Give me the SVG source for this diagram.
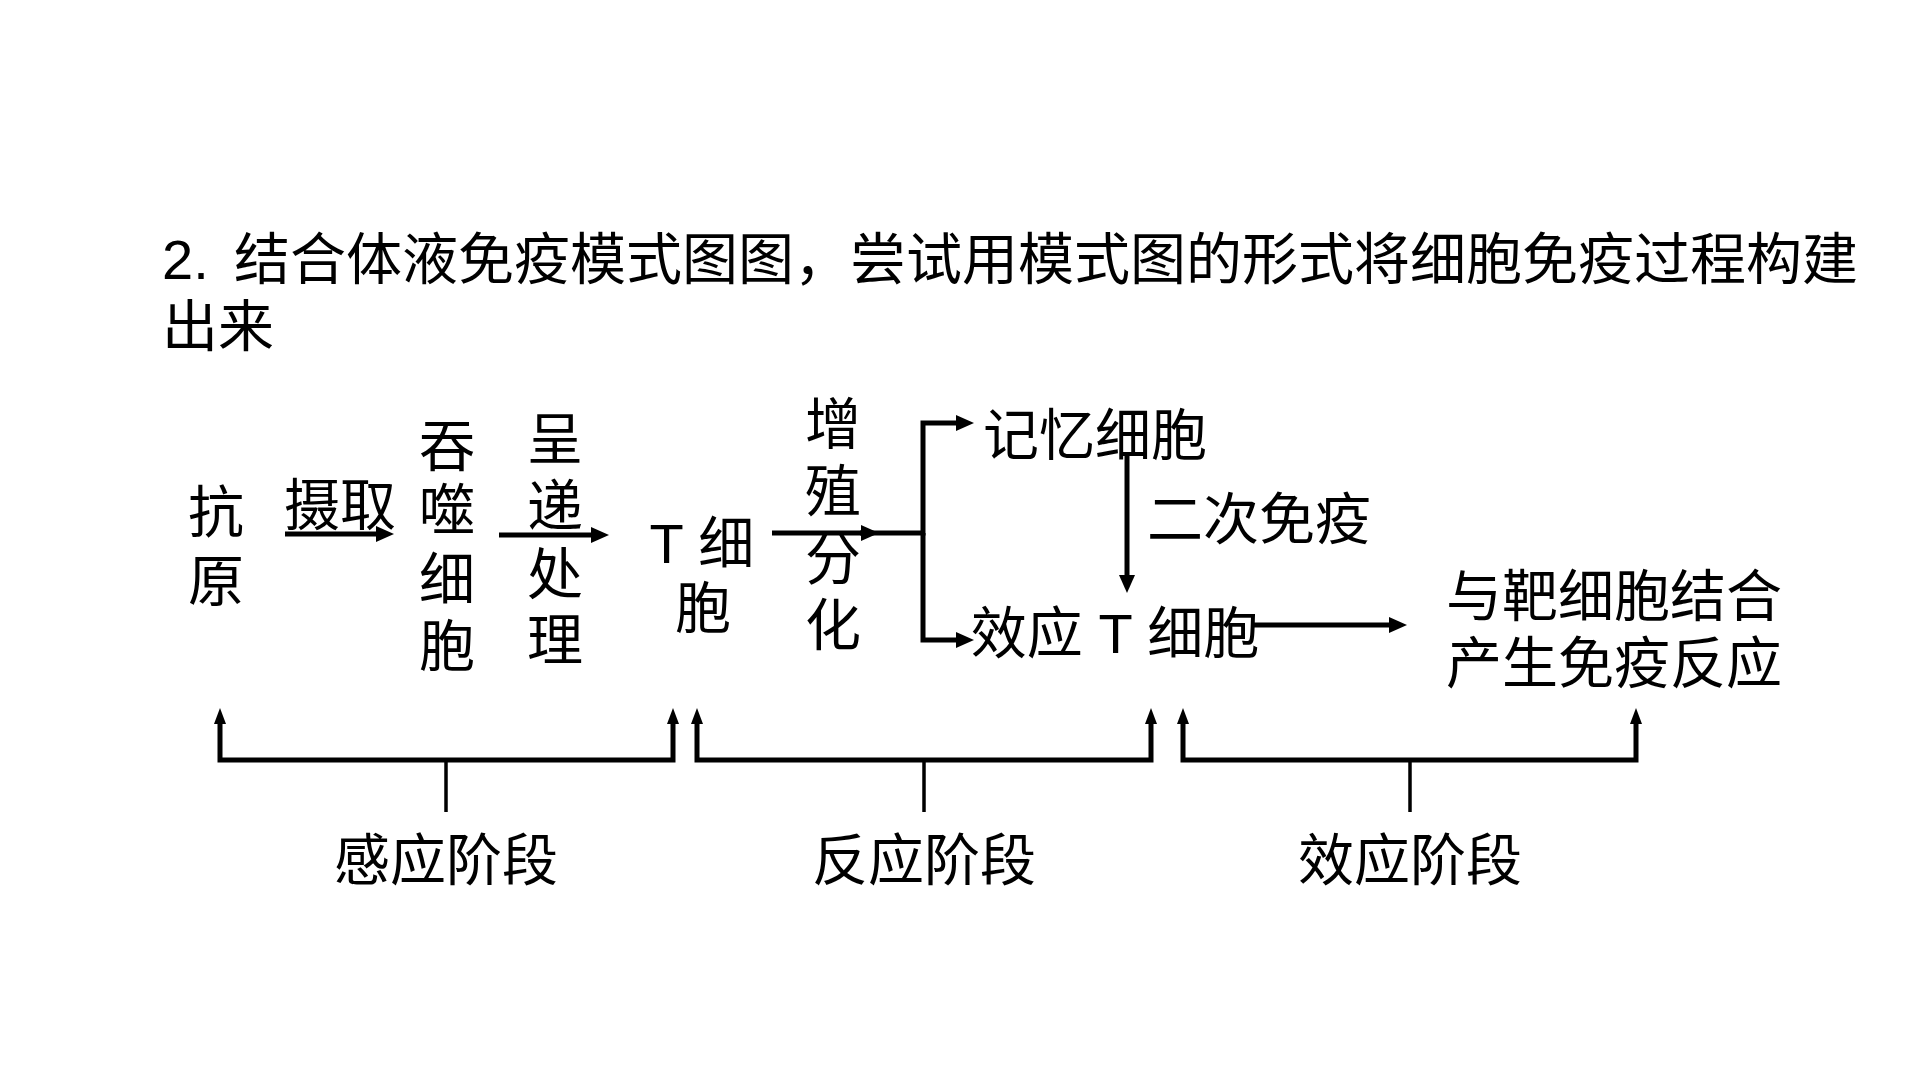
<svg xmlns="http://www.w3.org/2000/svg" width="1920" height="1080" viewBox="0 0 1920 1080">
<style>
text{font-family:"Liberation Sans","Noto Sans CJK SC",sans-serif;font-size:56px;fill:#000}
.c{text-anchor:middle}
.ln{fill:none;stroke:#000;stroke-width:5}
.br{fill:none;stroke:#000;stroke-width:5}
.st{fill:none;stroke:#000;stroke-width:3.5}
</style>
<defs>
<marker id="ah" markerUnits="userSpaceOnUse" viewBox="0 0 18 16" refX="8" refY="8" markerWidth="18" markerHeight="16" orient="auto"><path d="M0,0 L18,8 L0,16 z" fill="#000"/></marker>
<marker id="ab" markerUnits="userSpaceOnUse" viewBox="0 0 16 12" refX="6" refY="6" markerWidth="16" markerHeight="12" orient="auto"><path d="M0,0 L16,6 L0,12 z" fill="#000"/></marker>
</defs>
<rect width="1920" height="1080" fill="#fff"/>
<g id="title">
<text x="162" y="279">2. <tspan x="234">结合体液免疫模式图图，尝试用模式图的形式将细胞免疫过程构建</tspan></text>
<text x="162" y="346">出来</text>
</g>
<g id="antigen"><text class="c" x="216" y="532">抗</text><text class="c" x="216" y="601">原</text></g>
<g id="label-uptake"><text class="c" x="340" y="525">摄取</text></g>
<g id="phagocyte"><text class="c" x="447" y="466">吞</text><text class="c" x="447" y="530">噬</text><text class="c" x="447" y="599">细</text><text class="c" x="447" y="666">胞</text></g>
<g id="label-present"><text class="c" x="555" y="459">呈</text><text class="c" x="555" y="526">递</text><text class="c" x="555" y="594">处</text><text class="c" x="555" y="660">理</text></g>
<g id="tcell"><text class="c" x="702" y="563">T 细</text><text class="c" x="703" y="628">胞</text></g>
<g id="label-prolif"><text class="c" x="833" y="444">增</text><text class="c" x="833" y="511">殖</text><text class="c" x="833" y="579">分</text><text class="c" x="833" y="645">化</text></g>
<g id="memory"><text class="c" x="1095" y="455">记忆细胞</text></g>
<g id="label-secondary"><text class="c" x="1259" y="539">二次免疫</text></g>
<g id="effector"><text class="c" x="1115" y="653">效应 T 细胞</text></g>
<g id="result"><text class="c" x="1614" y="616">与靶细胞结合</text><text class="c" x="1614" y="683">产生免疫反应</text></g>
<g id="stage1"><text class="c" x="446" y="880">感应阶段</text></g>
<g id="stage2"><text class="c" x="924" y="880">反应阶段</text></g>
<g id="stage3"><text class="c" x="1410" y="880">效应阶段</text></g>
<g id="connectors">
<path class="ln" d="M285,534 H384" marker-end="url(#ah)"/>
<path class="ln" d="M499,535 H599" marker-end="url(#ah)"/>
<path class="ln" d="M772,533 H869" marker-end="url(#ah)"/>
<path class="ln" d="M860,533 H923 V423 H964" marker-end="url(#ah)"/>
<path class="ln" d="M923,533 V640 H964" marker-end="url(#ah)"/>
<path class="ln" d="M1127,455 V583" marker-end="url(#ah)"/>
<path class="ln" d="M1251,625 H1397" marker-end="url(#ah)"/>
<path class="br" d="M446,760 H220 V718" marker-end="url(#ab)"/>
<path class="br" d="M446,760 H673 V718" marker-end="url(#ab)"/>
<path class="st" d="M446,760 V812"/>
<path class="br" d="M924,760 H697 V718" marker-end="url(#ab)"/>
<path class="br" d="M924,760 H1151 V718" marker-end="url(#ab)"/>
<path class="st" d="M924,760 V812"/>
<path class="br" d="M1410,760 H1183 V718" marker-end="url(#ab)"/>
<path class="br" d="M1410,760 H1636 V718" marker-end="url(#ab)"/>
<path class="st" d="M1410,760 V812"/>
</g>
</svg>
